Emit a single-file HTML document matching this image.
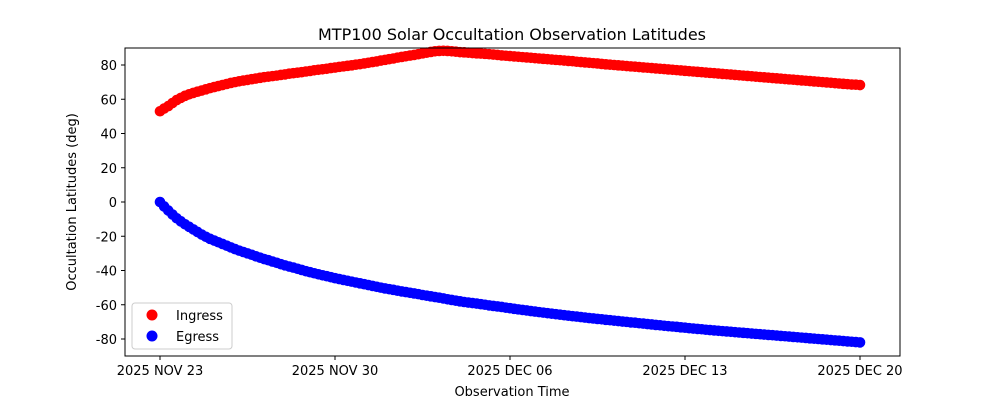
<!DOCTYPE html>
<html><head><meta charset="utf-8"><style>
body{margin:0;background:#fff}
svg text{font-family:"DejaVu Sans","Liberation Sans",sans-serif;fill:#000}
</style></head><body>
<svg id="chart" width="1000" height="400">
<rect width="1000" height="400" fill="#fff"/>
<text x="512" y="40" font-size="16" text-anchor="middle">MTP100 Solar Occultation Observation Latitudes</text>
<g id="marks"></g>
<g id="axes"></g>
<rect x="125" y="48" width="775" height="308" fill="none" stroke="#000" stroke-width="1"/>
<text x="512" y="396" font-size="13" text-anchor="middle">Observation Time</text>
<text transform="translate(76,202) rotate(-90)" font-size="13" text-anchor="middle">Occultation Latitudes (deg)</text>
<g>
<rect x="132" y="303" width="100" height="46" rx="3" fill="#fff" fill-opacity="0.8" stroke="#ccc"/>
<g><circle cx="152" cy="315" r="5.5" fill="red"/><text x="176" y="320" font-size="13">Ingress</text></g>
<g><circle cx="152" cy="336" r="5.5" fill="blue"/><text x="176" y="341" font-size="13">Egress</text></g>
</g>
</svg>
<script>
const ingress=[53,54.6,56,57.8,59.5,60.8,62,62.9,63.7,64.4,65.1,65.8,66.5,67.1,67.7,68.3,68.9,69.5,70,70.5,70.9,71.3,71.7,72.1,72.5,72.9,73.2,73.5,73.8,74.2,74.5,74.9,75.2,75.5,75.8,76.2,76.5,76.9,77.2,77.5,77.8,78.2,78.5,78.9,79.2,79.5,79.8,80.2,80.5,80.9,81.3,81.7,82.1,82.6,83,83.4,83.8,84.3,84.7,85.1,85.5,85.9,86.3,86.8,87.2,87.6,88,88.2,88.3,88.2,88,87.8,87.5,87.4,87.2,87,86.8,86.7,86.5,86.3,86.1,85.9,85.6,85.4,85.2,85,84.8,84.6,84.4,84.2,84,83.8,83.6,83.4,83.2,83,82.8,82.6,82.4,82.2,81.9,81.7,81.5,81.3,81.1,80.9,80.6,80.4,80.2,80,79.8,79.6,79.4,79.2,79,78.8,78.6,78.4,78.2,78,77.8,77.6,77.4,77.2,77,76.8,76.6,76.4,76.2,76,75.8,75.6,75.4,75.2,75,74.8,74.6,74.4,74.2,74,73.8,73.6,73.4,73.2,73,72.8,72.6,72.4,72.2,72,71.8,71.6,71.4,71.2,71,70.8,70.6,70.4,70.2,70,69.8,69.6,69.4,69.2,69,68.8,68.6,68.5,68.3];
const egress=[0,-2.6,-5,-7.3,-9.5,-11.3,-13,-14.5,-16,-17.5,-19,-20.3,-21.5,-22.5,-23.5,-24.5,-25.5,-26.5,-27.5,-28.4,-29.2,-30,-30.8,-31.7,-32.5,-33.3,-34,-34.8,-35.5,-36.3,-37,-37.7,-38.3,-39,-39.7,-40.4,-41,-41.6,-42.2,-42.8,-43.3,-43.9,-44.5,-45,-45.5,-46,-46.5,-47,-47.5,-48,-48.5,-49,-49.5,-50,-50.5,-50.9,-51.3,-51.8,-52.2,-52.6,-53,-53.4,-53.8,-54.3,-54.7,-55.1,-55.5,-55.9,-56.3,-56.8,-57.2,-57.6,-58,-58.4,-58.7,-59,-59.3,-59.7,-60,-60.4,-60.7,-61,-61.3,-61.7,-62,-62.4,-62.7,-63,-63.3,-63.7,-64,-64.3,-64.6,-64.9,-65.2,-65.5,-65.8,-66.1,-66.4,-66.7,-66.9,-67.2,-67.5,-67.8,-68,-68.3,-68.5,-68.8,-69,-69.3,-69.5,-69.8,-70,-70.3,-70.5,-70.8,-71,-71.3,-71.5,-71.8,-72,-72.3,-72.5,-72.7,-72.9,-73.2,-73.4,-73.7,-73.9,-74.1,-74.3,-74.6,-74.8,-75,-75.2,-75.4,-75.6,-75.8,-76,-76.2,-76.4,-76.6,-76.8,-77,-77.2,-77.4,-77.6,-77.8,-78,-78.2,-78.4,-78.6,-78.8,-79,-79.2,-79.4,-79.6,-79.8,-80,-80.2,-80.4,-80.6,-80.8,-81,-81.2,-81.4,-81.6,-81.8,-82];
const xTickDays=[0,7,14,21,28];
const xTickLabels=["2025 NOV 23","2025 NOV 30","2025 DEC 06","2025 DEC 13","2025 DEC 20"];
const yTicks=[-80,-60,-40,-20,0,20,40,60,80];
const NS="http://www.w3.org/2000/svg";
const xs=d=>160+d*25;
const ys=v=>202-v*1.7125;
const marks=document.getElementById('marks');
function draw(arr,color,name){
  arr.forEach((v,i)=>{
    const c=document.createElementNS(NS,'circle');
    c.setAttribute('cx',xs(i/6));c.setAttribute('cy',ys(v));c.setAttribute('r',5.3);c.setAttribute('fill',color);
    
    
    marks.appendChild(c);
  });
}
draw(ingress,'red','ingress-point');
draw(egress,'blue','egress-point');
const axes=document.getElementById('axes');
xTickDays.forEach((d,i)=>{
  const g=document.createElementNS(NS,'g');
  
  
  g.innerHTML=`<line x1="${xs(d)}" x2="${xs(d)}" y1="356" y2="360" stroke="#000"/><text x="${xs(d)}" y="375" font-size="13" text-anchor="middle">${xTickLabels[i]}</text>`;
  axes.appendChild(g);
});
yTicks.forEach(v=>{
  const g=document.createElementNS(NS,'g');
  
  
  g.innerHTML=`<line x1="121" x2="125" y1="${ys(v)}" y2="${ys(v)}" stroke="#000"/><text x="117" y="${ys(v)+5}" font-size="13" text-anchor="end">${v}</text>`;
  axes.appendChild(g);
});
</script>
</body></html>
